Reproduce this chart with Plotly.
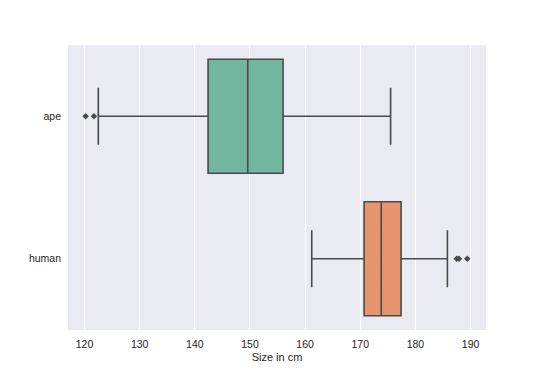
import plotly.graph_objects as go

categories = ["ape", "human"]
q1 = [142.4, 170.7]
median = [149.6, 173.8]
q3 = [156.0, 177.4]
lowerfence = [122.5, 161.2]
upperfence = [175.5, 185.8]
ape_outliers = [120.2, 121.7]
human_outliers = [187.5, 187.9, 189.4]
colors = ["#72b6a0", "#e8956f"]
line_color = "#4a4a4a"
tick_vals = [120, 130, 140, 150, 160, 170, 180, 190]

fig = go.Figure()
for i, cat in enumerate(categories):
    fig.add_trace(go.Box(
        y=[cat], q1=[q1[i]], median=[median[i]], q3=[q3[i]],
        lowerfence=[lowerfence[i]], upperfence=[upperfence[i]],
        orientation="h", width=0.8, whiskerwidth=0.5,
        fillcolor=colors[i], line=dict(color=line_color, width=1.6),
        boxpoints=False, showlegend=False, hoverinfo="skip",
    ))

for cat, vals in zip(categories, [ape_outliers, human_outliers]):
    fig.add_trace(go.Scatter(
        x=vals, y=[cat] * len(vals), mode="markers",
        marker=dict(symbol="diamond", size=5, color=line_color),
        showlegend=False, hoverinfo="skip",
    ))

fig.update_layout(
    width=540, height=371,
    margin=dict(l=60, r=62, t=37, b=49),
    paper_bgcolor="white", plot_bgcolor="#eaeaf2",
    font=dict(family="Liberation Sans, Arial, sans-serif", size=10.5, color="#262626"),
)
fig.update_xaxes(
    range=[117.0, 192.8], tickvals=tick_vals, showgrid=True, gridcolor="white",
    gridwidth=1, zeroline=False, showline=False, ticks="", ticklabelstandoff=6,
    title=dict(text="Size in cm", font=dict(size=11), standoff=4),
    automargin=False,
)
fig.update_yaxes(
    categoryorder="array", categoryarray=categories, autorange="reversed",
    range=[-0.5, 1.5], showgrid=False, zeroline=False, showline=False, ticks="",
    ticklabelstandoff=6, automargin=False,
)

fig.write_html("out.html")
